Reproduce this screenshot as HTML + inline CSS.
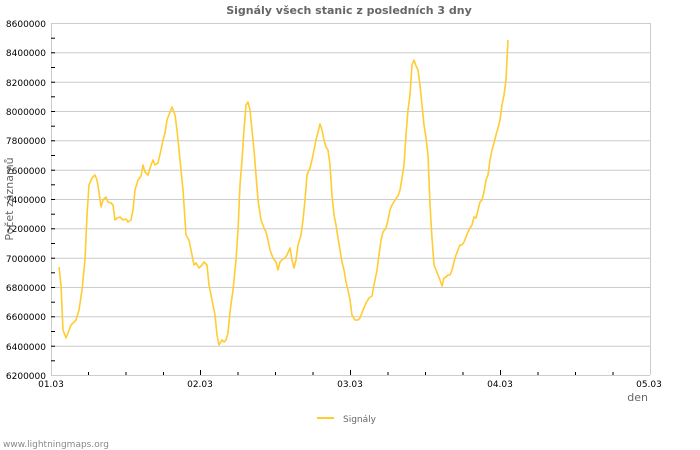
<!DOCTYPE html>
<html><head><meta charset="utf-8"><style>
body{margin:0;background:#fff;width:700px;height:450px;overflow:hidden}
svg{display:block;font-family:"DejaVu Sans","Liberation Sans",sans-serif}
</style></head><body>
<svg width="700" height="450" viewBox="0 0 700 450">
<text x="349" y="14" text-anchor="middle" font-size="11" font-weight="bold" fill="#666">Signály všech stanic z posledních 3 dny</text>
<g stroke="#ccc" stroke-width="1">
<line x1="51" y1="23.5" x2="650" y2="23.5"/>
<line x1="51" y1="52.8" x2="650" y2="52.8"/>
<line x1="51" y1="82.2" x2="650" y2="82.2"/>
<line x1="51" y1="111.5" x2="650" y2="111.5"/>
<line x1="51" y1="140.8" x2="650" y2="140.8"/>
<line x1="51" y1="170.2" x2="650" y2="170.2"/>
<line x1="51" y1="199.5" x2="650" y2="199.5"/>
<line x1="51" y1="228.8" x2="650" y2="228.8"/>
<line x1="51" y1="258.2" x2="650" y2="258.2"/>
<line x1="51" y1="287.5" x2="650" y2="287.5"/>
<line x1="51" y1="316.8" x2="650" y2="316.8"/>
<line x1="51" y1="346.2" x2="650" y2="346.2"/>
<line x1="51" y1="375.5" x2="650" y2="375.5"/>
<line x1="51.5" y1="23" x2="51.5" y2="375"/>
<line x1="650.5" y1="23" x2="650.5" y2="375"/>
</g>
<g stroke="#000" stroke-width="1">
<line x1="51" y1="38.2" x2="55" y2="38.2"/><line x1="51" y1="52.8" x2="55" y2="52.8"/>
<line x1="51" y1="67.5" x2="55" y2="67.5"/><line x1="51" y1="82.2" x2="55" y2="82.2"/>
<line x1="51" y1="96.8" x2="55" y2="96.8"/><line x1="51" y1="111.5" x2="55" y2="111.5"/>
<line x1="51" y1="126.2" x2="55" y2="126.2"/><line x1="51" y1="140.8" x2="55" y2="140.8"/>
<line x1="51" y1="155.5" x2="55" y2="155.5"/><line x1="51" y1="170.2" x2="55" y2="170.2"/>
<line x1="51" y1="184.8" x2="55" y2="184.8"/><line x1="51" y1="199.5" x2="55" y2="199.5"/>
<line x1="51" y1="214.2" x2="55" y2="214.2"/><line x1="51" y1="228.8" x2="55" y2="228.8"/>
<line x1="51" y1="243.5" x2="55" y2="243.5"/><line x1="51" y1="258.2" x2="55" y2="258.2"/>
<line x1="51" y1="272.8" x2="55" y2="272.8"/><line x1="51" y1="287.5" x2="55" y2="287.5"/>
<line x1="51" y1="302.2" x2="55" y2="302.2"/><line x1="51" y1="316.8" x2="55" y2="316.8"/>
<line x1="51" y1="331.5" x2="55" y2="331.5"/><line x1="51" y1="346.2" x2="55" y2="346.2"/>
<line x1="51" y1="360.8" x2="55" y2="360.8"/>
<line x1="88.5" y1="372" x2="88.5" y2="375"/><line x1="126" y1="372" x2="126" y2="375"/><line x1="163.5" y1="372" x2="163.5" y2="375"/>
<line x1="200.5" y1="370" x2="200.5" y2="375"/>
<line x1="238" y1="372" x2="238" y2="375"/><line x1="275.5" y1="372" x2="275.5" y2="375"/><line x1="313" y1="372" x2="313" y2="375"/>
<line x1="350.5" y1="370" x2="350.5" y2="375"/>
<line x1="388" y1="372" x2="388" y2="375"/><line x1="425.5" y1="372" x2="425.5" y2="375"/><line x1="463" y1="372" x2="463" y2="375"/>
<line x1="500.5" y1="370" x2="500.5" y2="375"/>
<line x1="538" y1="372" x2="538" y2="375"/><line x1="575.5" y1="372" x2="575.5" y2="375"/><line x1="613" y1="372" x2="613" y2="375"/>
</g>
<g font-size="9" fill="#000" text-anchor="end">
<text x="46" y="27">8600000</text><text x="46" y="56">8400000</text><text x="46" y="86">8200000</text>
<text x="46" y="115">8000000</text><text x="46" y="144">7800000</text><text x="46" y="174">7600000</text>
<text x="46" y="203">7400000</text><text x="46" y="232">7200000</text><text x="46" y="262">7000000</text>
<text x="46" y="291">6800000</text><text x="46" y="320">6600000</text><text x="46" y="350">6400000</text>
<text x="46" y="379">6200000</text>
</g>
<g font-size="9" fill="#000" text-anchor="middle">
<text x="51" y="387">01.03</text><text x="200" y="387">02.03</text><text x="350" y="387">03.03</text>
<text x="500" y="387">04.03</text><text x="649" y="387">05.03</text>
</g>
<text x="648" y="401" font-size="11" fill="#666" text-anchor="end">den</text>
<text transform="translate(13,199) rotate(-90)" font-size="11" fill="#666" text-anchor="middle">Počet záznamů</text>
<polyline fill="none" stroke="#ffcc33" stroke-width="1.6" stroke-linejoin="round" points="59,267 61,285 63,330 66,338 68,333 71,325 76,320 79,310 82,290 85,260 87,215 89,185 92,178 95,175 97,180 99,192 101,207 103,200 106,197 108,202 111,203 113,205 115,220 117,218 120,217 123,220 126,219 128,222 131,220 133,210 135,190 138,180 141,176 143,165 145,172 148,175 151,165 153,160 155,165 158,163 161,150 163,140 165,133 167,120 170,112 172,107 175,115 177,130 180,160 183,190 186,235 189,240 191,250 194,265 196,263 199,268 202,265 204,262 207,265 209,285 212,300 215,315 217,335 219,345 222,340 224,342 226,340 228,333 230,312 233,290 236,260 238,230 240,185 242,160 244,130 246,105 248,102 250,110 252,130 254,150 256,175 258,200 261,220 264,228 266,232 268,240 270,250 273,258 276,262 278,270 280,262 282,260 285,258 287,255 290,248 292,260 294,268 296,260 298,245 301,235 303,220 305,200 307,175 310,168 312,160 314,150 316,140 318,132 320,124 322,130 324,140 326,147 328,150 330,165 332,195 334,215 336,225 338,238 340,250 342,262 344,270 346,282 348,290 350,300 352,315 355,320 358,320 360,318 363,310 366,303 369,298 372,296 374,285 377,270 379,255 381,240 383,232 386,228 388,220 390,210 392,205 395,200 398,196 400,190 402,178 404,165 406,135 408,110 410,95 412,65 414,60 416,66 418,70 420,85 422,105 424,125 426,138 428,155 430,205 432,238 434,265 436,270 438,275 440,280 442,286 444,278 446,277 448,275 450,275 452,270 454,262 456,255 458,250 460,245 462,245 464,242 466,237 468,232 470,228 472,225 474,217 476,218 478,210 480,202 482,200 484,192 486,180 488,175 490,160 492,150 494,143 496,135 498,128 500,120 502,105 504,95 506,80 507,60 508,40"/>
<line x1="317" y1="418" x2="334" y2="418" stroke="#ffcc33" stroke-width="2"/>
<text x="343" y="422" font-size="9" fill="#666">Signály</text>
<text x="3" y="447" font-size="9" fill="#888">www.lightningmaps.org</text>
</svg>
</body></html>
